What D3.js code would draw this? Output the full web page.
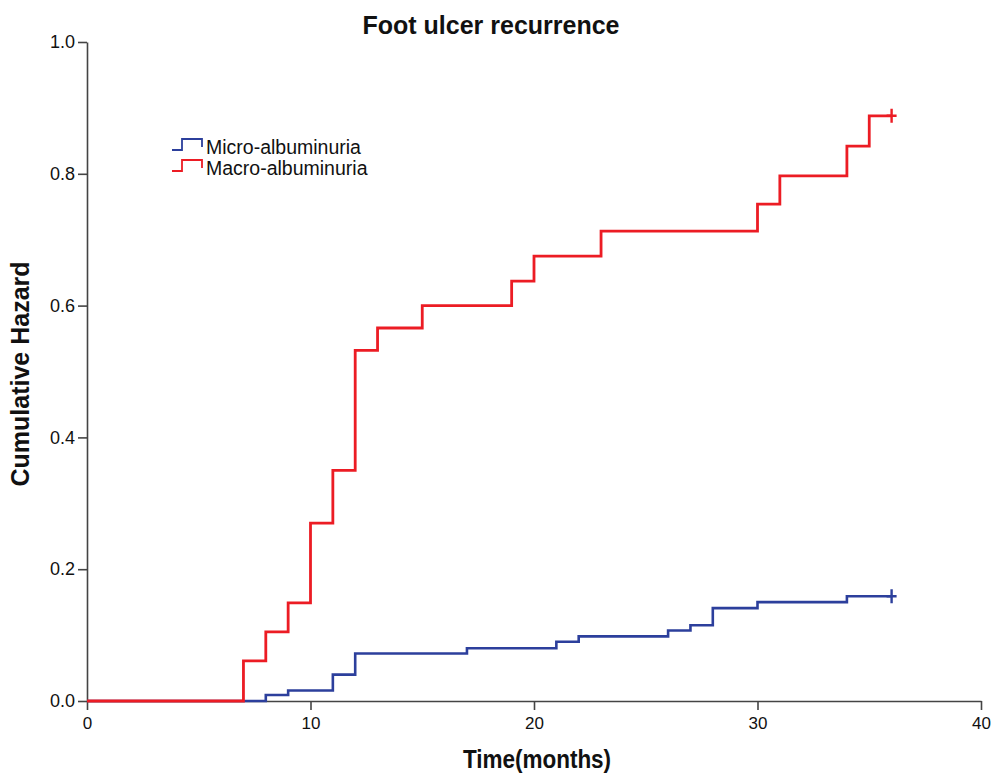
<!DOCTYPE html>
<html>
<head>
<meta charset="utf-8">
<script src="https://cdn.jsdelivr.net/npm/d3@7"></script>
<style>
  body { margin: 0; background: #fff; }
  svg { display: block; font-family: "Liberation Sans", Arial, sans-serif; }
</style>
</head>
<body>
<svg id="chart" width="1004" height="773"></svg>
<script>
var svg = d3.select("#chart");

// step times (months) and cumulative hazard after each step
var microTimes  = [0, 8, 9, 11, 12, 17, 21, 22, 26, 27, 28, 30, 34, 36];
var microValues = [0, 0.009, 0.016, 0.040, 0.072, 0.080, 0.090, 0.098, 0.107, 0.115, 0.141, 0.150, 0.159, 0.159];
var macroTimes  = [0, 7, 8, 9, 10, 11, 12, 13, 15, 19, 20, 23, 30, 31, 34, 35, 36];
var macroValues = [0, 0.061, 0.105, 0.149, 0.270, 0.350, 0.532, 0.566, 0.600, 0.637, 0.675, 0.713, 0.754, 0.797, 0.842, 0.888, 0.888];
var seriesNames = ["Micro-albuminuria", "Macro-albuminuria"];
var xTicks = [0, 10, 20, 30, 40];
var yTicks = [0, 0.2, 0.4, 0.6, 0.8, 1.0];

var blue = "#2c3f9c", red = "#ec1c24";

var xScale = d3.scaleLinear().domain([0, 40]).range([87, 981]);
var yScale = d3.scaleLinear().domain([0, 1]).range([701, 42]);

function toPoints(times, vals){
  return times.map(function(t, i){ return {t: t, v: vals[i]}; });
}

var line = d3.line()
  .x(function(d){ return xScale(d.t); })
  .y(function(d){ return yScale(d.v); })
  .curve(d3.curveStepAfter);

// axes
var xAxis = d3.axisBottom(xScale).tickValues(xTicks).tickSize(9).tickSizeOuter(0).tickFormat(d3.format("d"));
var yAxis = d3.axisLeft(yScale).tickValues(yTicks).tickSize(9).tickSizeOuter(0).tickFormat(d3.format(".1f"));

var gx = svg.append("g")
  .attr("transform", "translate(0," + yScale(0) + ")")
  .call(xAxis);
gx.selectAll("text")
  .attr("y", 28)
  .attr("dy", null)
  .style("font-size", "17px")
  .attr("fill", "#111");

var gy = svg.append("g")
  .attr("transform", "translate(" + xScale(0) + ",0)")
  .call(yAxis);
gy.selectAll("text")
  .attr("x", -12)
  .style("font-size", "18px")
  .attr("fill", "#111");

svg.selectAll(".domain, .tick line")
  .attr("stroke", "#444")
  .attr("stroke-width", 1.6);

// lines (blue first, red on top)
var series = [
  {name: seriesNames[0], color: blue, pts: toPoints(microTimes, microValues), w: 2.6},
  {name: seriesNames[1], color: red, pts: toPoints(macroTimes, macroValues), w: 2.8}
];

series.forEach(function(s){
  svg.append("path")
    .datum(s.pts)
    .attr("d", line)
    .attr("fill", "none")
    .attr("stroke", s.color)
    .attr("stroke-width", s.w);

  // censor mark at last point
  var last = s.pts[s.pts.length - 1];
  var cx = xScale(last.t), cy = yScale(last.v);
  svg.append("path")
    .attr("d", "M" + (cx - 5) + "," + cy + "H" + (cx + 5) + "M" + cx + "," + (cy - 7) + "V" + (cy + 7))
    .attr("stroke", s.color)
    .attr("stroke-width", 2.4);
});

// legend
var legend = svg.append("g").attr("transform", "translate(172,139)");
series.forEach(function(s, i){
  var g = legend.append("g").attr("transform", "translate(0," + (i * 21) + ")");
  g.append("path")
    .attr("d", "M0,11H10V0H30V8")
    .attr("fill", "none")
    .attr("stroke", s.color)
    .attr("stroke-width", 1.8);
  g.append("text")
    .attr("x", 34)
    .attr("y", 15)
    .style("font-size", "19.5px")
    .attr("fill", "#111")
    .text(s.name);
});

// title and axis labels
svg.append("text")
  .attr("x", 491).attr("y", 34)
  .attr("text-anchor", "middle")
  .style("font-size", "25px").style("font-weight", "bold")
  .attr("fill", "#111")
  .text("Foot ulcer recurrence");

svg.append("text")
  .attr("transform", "translate(29,374) rotate(-90)")
  .attr("text-anchor", "middle")
  .style("font-size", "25px").style("font-weight", "bold")
  .attr("fill", "#111")
  .text("Cumulative Hazard");

svg.append("text")
  .attr("transform", "translate(537,768) scale(0.9,1)")
  .attr("text-anchor", "middle")
  .style("font-size", "25px").style("font-weight", "bold")
  .attr("fill", "#111")
  .text("Time(months)");
</script>
</body>
</html>
